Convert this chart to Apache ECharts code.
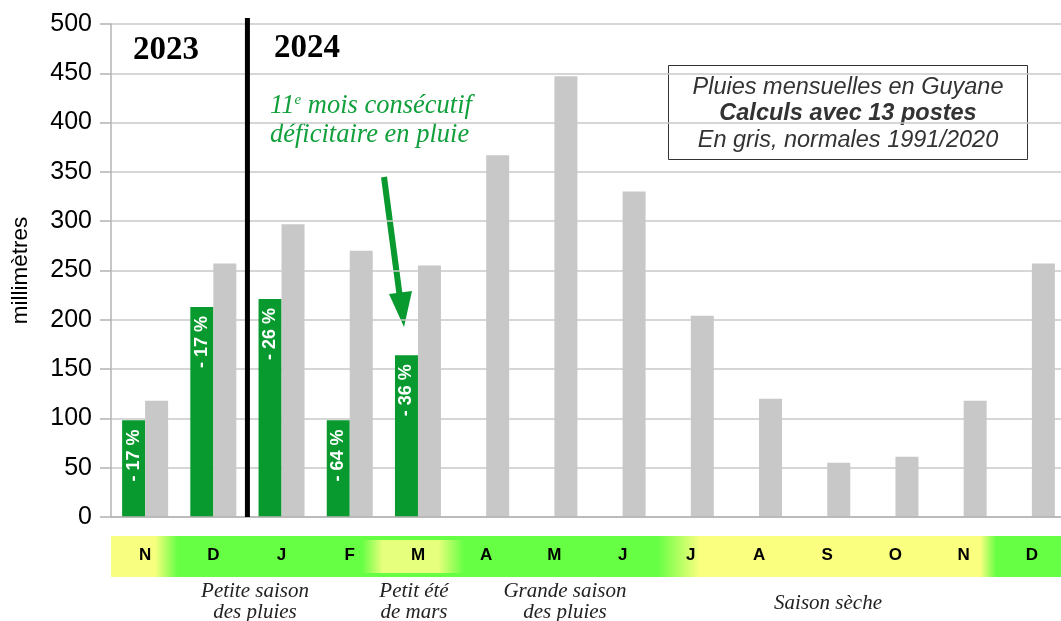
<!DOCTYPE html>
<html>
<head>
<meta charset="utf-8">
<script src="https://cdn.jsdelivr.net/npm/echarts@6/dist/echarts.min.js"></script>
<style>
  html, body { margin: 0; padding: 0; background: #fff; }
  #chart { width: 1061px; height: 621px; }
</style>
</head>
<body>
<div id="chart"></div>
<script>
// mois de nov. 2023 a dec. 2024
const months = ['N', 'D', 'J', 'F', 'M', 'A', 'M', 'J', 'J', 'A', 'S', 'O', 'N', 'D']
// pluies mesurees (13 postes), mm
const observed = [98, 213, 221, 98, 164, null, null, null, null, null, null, null, null, null]
// normales 1991/2020, mm
const normals = [118, 257, 297, 270, 255, 367, 447, 330, 204, 120, 55, 61, 118, 257]
// ecart a la normale
const deficits = ['- 17 %', '- 17 %', '- 26 %', '- 64 %', '- 36 %']
const yTicks = [0, 500, 50]
// position du changement d'annee (en nombre de mois)
const yearBreak = 2

const green = '#089a2e'
const grey = '#c8c8c8'
const textGreen = '#12a03c'
const sans = 'Liberation Sans'
const serif = 'Liberation Serif'

const chart = echarts.init(document.getElementById('chart'))

const option = {
  animation: false,
  grid: {
    left: 111,
    top: 24,
    width: 955,
    height: 493,
    containLabel: false,
    outerBoundsMode: 'none'
  },
  xAxis: [{
    type: 'category',
    data: months,
    axisLine: {lineStyle: {color: '#b3b3b3', width: 1.5}},
    axisTick: {length: 11, lineStyle: {color: '#b3b3b3', width: 1.5}},
    axisLabel: {
      interval: 0,
      margin: 30,
      color: '#000',
      fontFamily: sans,
      fontWeight: 'bold',
      fontSize: 17
    },
    splitLine: {show: false},
    z: 5
  }, {
    type: 'value',
    min: 0,
    max: months.length,
    show: false
  }],
  yAxis: {
    type: 'value',
    min: yTicks[0],
    max: yTicks[1],
    interval: yTicks[2],
    name: 'millimètres',
    nameLocation: 'middle',
    nameRotate: 90,
    nameGap: 79,
    nameTextStyle: {color: '#000', fontFamily: sans, fontSize: 22.5},
    axisLine: {show: true, lineStyle: {color: '#b3b3b3', width: 1.5}},
    axisTick: {show: true, length: 11, lineStyle: {color: '#b3b3b3', width: 1.5}},
    axisLabel: {color: '#000', fontFamily: sans, fontSize: 25, margin: 19},
    splitLine: {lineStyle: {color: '#c8c8c8', width: 1.5}}
  },
  graphic: [
    // bande des saisons
    {
      type: 'rect',
      z: -1,
      shape: {x: 111, y: 536, width: 955, height: 41},
      style: {
        fill: new echarts.graphic.LinearGradient(0, 0, 1, 0, [
          {offset: 0, color: '#f8ff80'},
          {offset: 0.046, color: '#f8ff80'},
          {offset: 0.07, color: '#66ff44'},
          {offset: 0.572, color: '#66ff44'},
          {offset: 0.617, color: '#fbff80'},
          {offset: 0.91, color: '#fbff80'},
          {offset: 0.927, color: '#66ff44'},
          {offset: 1, color: '#66ff44'}
        ])
      }
    },
    // petit ete de mars
    {
      type: 'rect',
      z: 0,
      shape: {x: 362, y: 540, width: 102, height: 33},
      style: {
        fill: new echarts.graphic.LinearGradient(0, 0, 1, 0, [
          {offset: 0, color: '#66ff44'},
          {offset: 0.2, color: '#e6ff7c'},
          {offset: 0.75, color: '#e6ff7c'},
          {offset: 1, color: '#66ff44'}
        ])
      }
    },
    // annees
    {
      type: 'text', x: 166, y: 50,
      style: {text: '2023', fill: '#000', font: 'bold 33px "Liberation Serif"', align: 'center', verticalAlign: 'middle'}
    },
    {
      type: 'text', x: 307, y: 48,
      style: {text: '2024', fill: '#000', font: 'bold 33px "Liberation Serif"', align: 'center', verticalAlign: 'middle'}
    },
    // annotation
    {
      type: 'text', x: 270, y: 106,
      style: {
        text: '{a|11}{s|e}{a| mois consécutif}',
        verticalAlign: 'middle',
        rich: {
          a: {fill: textGreen, fontFamily: serif, fontStyle: 'italic', fontSize: 26.5},
          s: {fill: textGreen, fontFamily: serif, fontStyle: 'italic', fontSize: 15, padding: [0, 0, 11, 0]}
        }
      }
    },
    {
      type: 'text', x: 270, y: 135,
      style: {text: 'déficitaire en pluie', fill: textGreen, font: 'italic 26.5px "Liberation Serif"', verticalAlign: 'middle'}
    },
    {
      type: 'line',
      shape: {x1: 384, y1: 177, x2: 400, y2: 298},
      style: {stroke: green, lineWidth: 6}
    },
    {
      type: 'polygon',
      shape: {points: [[389, 294], [412, 291], [404, 327]]},
      style: {fill: green}
    },
    // cartouche
    {
      type: 'rect',
      shape: {x: 668.5, y: 65.5, width: 359, height: 94},
      style: {fill: '#fff', stroke: '#333', lineWidth: 1}
    },
    {
      type: 'text', x: 848, y: 87,
      style: {text: 'Pluies mensuelles en Guyane', fill: '#333', font: 'italic 23.5px "Liberation Sans"', align: 'center', verticalAlign: 'middle'}
    },
    {
      type: 'text', x: 848, y: 114,
      style: {text: 'Calculs avec 13 postes', fill: '#333', font: 'italic bold 23.5px "Liberation Sans"', align: 'center', verticalAlign: 'middle'}
    },
    {
      type: 'text', x: 848, y: 140,
      style: {text: 'En gris, normales 1991/2020', fill: '#333', font: 'italic 23.5px "Liberation Sans"', align: 'center', verticalAlign: 'middle'}
    },
    // saisons
    {
      type: 'text', x: 255, y: 602,
      style: {text: 'Petite saison\ndes pluies', fill: '#222', font: 'italic 21px "Liberation Serif"', align: 'center', verticalAlign: 'middle', lineHeight: 21}
    },
    {
      type: 'text', x: 414, y: 602,
      style: {text: 'Petit été\nde mars', fill: '#222', font: 'italic 21px "Liberation Serif"', align: 'center', verticalAlign: 'middle', lineHeight: 21}
    },
    {
      type: 'text', x: 565, y: 602,
      style: {text: 'Grande saison\ndes pluies', fill: '#222', font: 'italic 21px "Liberation Serif"', align: 'center', verticalAlign: 'middle', lineHeight: 21}
    },
    {
      type: 'text', x: 828, y: 603,
      style: {text: 'Saison sèche', fill: '#222', font: 'italic 21px "Liberation Serif"', align: 'center', verticalAlign: 'middle'}
    }
  ],
  series: [{
    name: 'Pluies',
    type: 'bar',
    data: observed,
    barWidth: 23,
    barGap: '0%',
    itemStyle: {color: green},
    label: {
      show: true,
      position: 'insideTop',
      rotate: 90,
      align: 'right',
      verticalAlign: 'middle',
      distance: 9,
      color: '#fff',
      fontFamily: sans,
      fontWeight: 'bold',
      fontSize: 18,
      formatter: p => deficits[p.dataIndex] || ''
    },
    z: 3
  }, {
    name: 'Normales',
    type: 'bar',
    data: normals,
    barWidth: 23,
    itemStyle: {color: grey},
    z: 3
  }, {
    name: 'Annee',
    type: 'line',
    xAxisIndex: 1,
    data: [[yearBreak, 0], [yearBreak, 506]],
    symbol: 'none',
    clip: false,
    silent: true,
    lineStyle: {color: '#000', width: 5},
    z: 6
  }]
}

option && chart.setOption(option)
</script>
</body>
</html>
